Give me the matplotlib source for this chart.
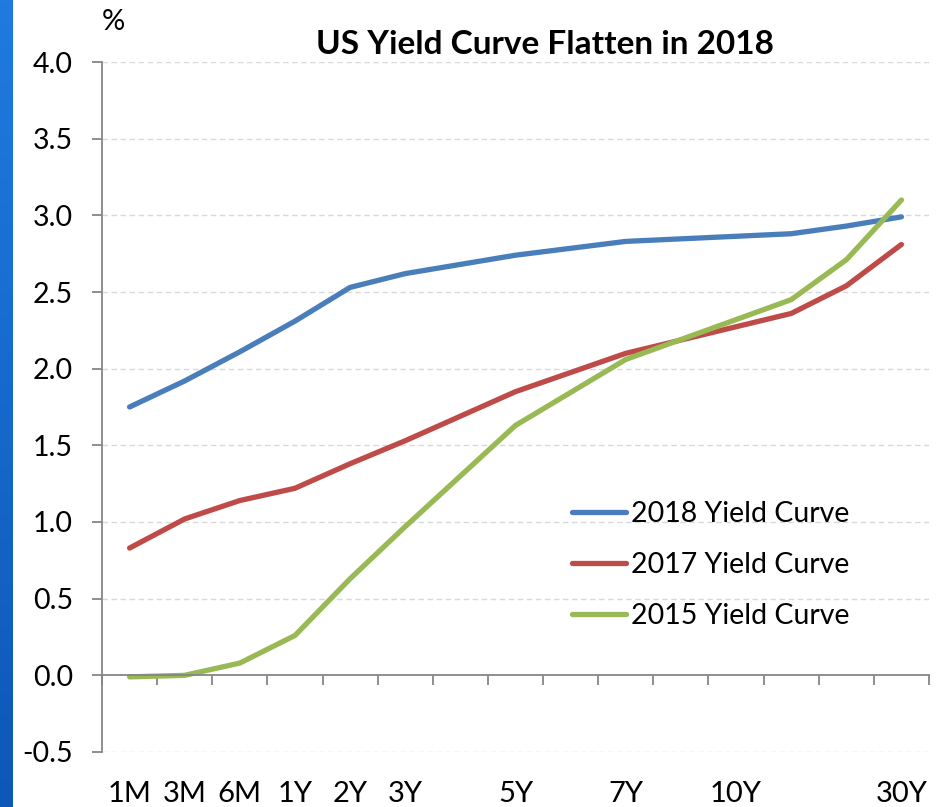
import matplotlib
matplotlib.use("Agg")
import matplotlib.pyplot as plt
import numpy as np
from matplotlib.ticker import FixedLocator, NullFormatter
from matplotlib.colors import LinearSegmentedColormap

# ---- data ----
tenor_pos = [0, 1, 2, 3, 4, 5, 7, 9, 12, 13, 14]
label_pos = [0, 1, 2, 3, 4, 5, 7, 9, 11, 14]
tick_labels = ["1M", "3M", "6M", "1Y", "2Y", "3Y", "5Y", "7Y", "10Y", "30Y"]
curve_2018 = [1.75, 1.92, 2.11, 2.31, 2.53, 2.62, 2.74, 2.83, 2.88, 2.93, 2.99]
curve_2017 = [0.83, 1.02, 1.14, 1.22, 1.38, 1.53, 1.85, 2.10, 2.36, 2.54, 2.81]
curve_2015 = [-0.01, 0.00, 0.08, 0.26, 0.63, 0.97, 1.63, 2.06, 2.45, 2.71, 3.10]
series_names = ["2018 Yield Curve", "2017 Yield Curve", "2015 Yield Curve"]
colors = ["#4A7EBB", "#BE4B48", "#98B954"]

plt.rcParams['font.family'] = ['Lato', 'DejaVu Sans']

W, H = 943, 807
fig = plt.figure(figsize=(W / 100, H / 100), dpi=100)

# left blue stripe
sax = fig.add_axes([0, 0, 13 / W, 1])
grad = np.linspace(0, 1, 256).reshape(-1, 1)
cm = LinearSegmentedColormap.from_list("s", ["#1F7BE0", "#0D57B8"])
sax.imshow(grad, aspect="auto", cmap=cm, extent=[0, 1, 0, 1], origin="upper")
sax.axis("off")

ax = fig.add_axes([102 / W, (H - 752) / H, 827 / W, 690 / H])
ax.set_xlim(-0.5, 14.5)
ax.set_ylim(-0.5, 4.0)

for y, name, c in zip([curve_2018, curve_2017, curve_2015], series_names, colors):
    ax.plot(tenor_pos, y, color=c, lw=3.8, solid_capstyle="round",
            solid_joinstyle="round", label=name)

# grid
for v in np.arange(-0.5, 4.01, 0.5):
    if abs(v) > 1e-9:
        ax.axhline(v, color="#D9D9D9", lw=1.0, ls=(0, (4, 2.5)), zorder=0)

for s in ["top", "right"]:
    ax.spines[s].set_visible(False)
ax.spines["left"].set_color("#868686")
ax.spines["left"].set_linewidth(1.3)
ax.spines["bottom"].set_position(("data", 0))
ax.spines["bottom"].set_color("#868686")
ax.spines["bottom"].set_linewidth(1.3)

ax.set_yticks(np.arange(-0.5, 4.01, 0.5))
ax.set_yticklabels([f"{v:.1f}" for v in np.arange(-0.5, 4.01, 0.5)])
ax.tick_params(axis="y", direction="out", length=7, width=1.3, color="#868686",
               labelsize=20.5, pad=14)

ax.set_xticks(label_pos)
ax.set_xticklabels(tick_labels)
ax.xaxis.set_minor_locator(FixedLocator(np.arange(-0.5, 14.51, 1)))
ax.xaxis.set_minor_formatter(NullFormatter())
ax.tick_params(axis="x", which="major", length=0, labelsize=21, pad=76)
ax.tick_params(axis="x", which="minor", direction="out", length=7, width=1.3,
               color="#868686")

fig.text(113 / W, 1 - 22 / H, "%", fontsize=21, ha="center", va="center")
fig.text(545 / W, 1 - 45 / H, "US Yield Curve Flatten in 2018", fontsize=24,
         fontweight="bold", ha="center", va="center")

leg = ax.legend(loc="upper left", bbox_to_anchor=(546 / W, 1 - 475 / H),
                bbox_transform=fig.transFigure, frameon=False, fontsize=20.5,
                handlelength=1.9, handletextpad=0.2, labelspacing=0.88)

fig.savefig("out.png", dpi=100)
